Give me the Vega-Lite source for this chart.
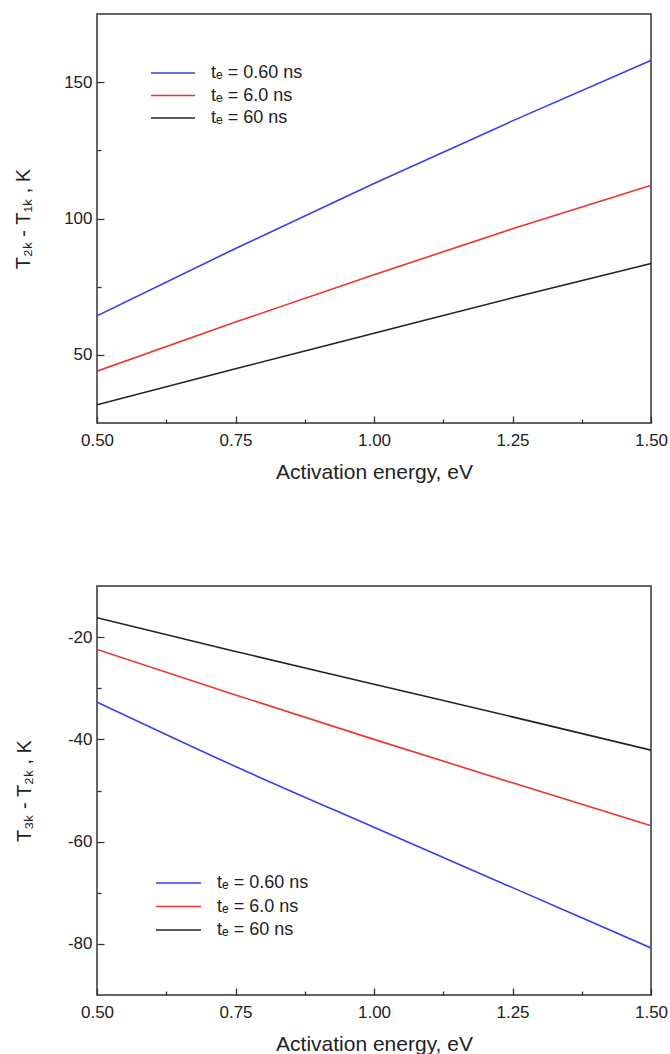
{
  "$schema": "https://vega.github.io/schema/vega-lite/v6.json",
  "background": "white",
  "padding": {"left": 12, "top": 13, "right": 0, "bottom": 5},
  "spacing": 102,
  "config": {
    "font": "Liberation Sans",
    "view": {"stroke": "#333333", "strokeWidth": 1.5},
    "axis": {
      "grid": false,
      "domain": false,
      "tickColor": "#333333",
      "tickWidth": 1.3,
      "labelFont": "Liberation Sans",
      "labelFontSize": 17,
      "labelColor": "#222222",
      "titleFont": "Liberation Sans",
      "titleFontWeight": "normal",
      "titleColor": "#222222"
    },
    "legend": {
      "labelFont": "Liberation Sans",
      "labelFontSize": 18,
      "labelColor": "#222222"
    }
  },
  "datasets": {
    "top": [
      {"E": 0.5, "dT": 64.3, "te": "tₑ = 0.60 ns"},
      {"E": 0.75, "dT": 89.0, "te": "tₑ = 0.60 ns"},
      {"E": 1.0, "dT": 112.8, "te": "tₑ = 0.60 ns"},
      {"E": 1.25, "dT": 135.8, "te": "tₑ = 0.60 ns"},
      {"E": 1.5, "dT": 158.0, "te": "tₑ = 0.60 ns"},
      {"E": 0.5, "dT": 44.0, "te": "tₑ = 6.0 ns"},
      {"E": 0.75, "dT": 62.0, "te": "tₑ = 6.0 ns"},
      {"E": 1.0, "dT": 79.4, "te": "tₑ = 6.0 ns"},
      {"E": 1.25, "dT": 96.2, "te": "tₑ = 6.0 ns"},
      {"E": 1.5, "dT": 112.2, "te": "tₑ = 6.0 ns"},
      {"E": 0.5, "dT": 31.7, "te": "tₑ = 60 ns"},
      {"E": 0.75, "dT": 44.9, "te": "tₑ = 60 ns"},
      {"E": 1.0, "dT": 57.9, "te": "tₑ = 60 ns"},
      {"E": 1.25, "dT": 70.9, "te": "tₑ = 60 ns"},
      {"E": 1.5, "dT": 83.5, "te": "tₑ = 60 ns"}
    ],
    "bottom": [
      {"E": 0.5, "dT": -32.7, "te": "tₑ = 0.60 ns"},
      {"E": 0.75, "dT": -45.3, "te": "tₑ = 0.60 ns"},
      {"E": 1.0, "dT": -57.2, "te": "tₑ = 0.60 ns"},
      {"E": 1.25, "dT": -69.0, "te": "tₑ = 0.60 ns"},
      {"E": 1.5, "dT": -80.8, "te": "tₑ = 0.60 ns"},
      {"E": 0.5, "dT": -22.4, "te": "tₑ = 6.0 ns"},
      {"E": 0.75, "dT": -31.3, "te": "tₑ = 6.0 ns"},
      {"E": 1.0, "dT": -40.0, "te": "tₑ = 6.0 ns"},
      {"E": 1.25, "dT": -48.5, "te": "tₑ = 6.0 ns"},
      {"E": 1.5, "dT": -56.9, "te": "tₑ = 6.0 ns"},
      {"E": 0.5, "dT": -16.2, "te": "tₑ = 60 ns"},
      {"E": 0.75, "dT": -22.8, "te": "tₑ = 60 ns"},
      {"E": 1.0, "dT": -29.2, "te": "tₑ = 60 ns"},
      {"E": 1.25, "dT": -35.6, "te": "tₑ = 60 ns"},
      {"E": 1.5, "dT": -42.1, "te": "tₑ = 60 ns"}
    ]
  },
  "resolve": {"scale": {"color": "independent"}, "legend": {"color": "independent"}},
  "vconcat": [
    {
      "width": 554,
      "height": 409,
      "data": {"name": "top"},
      "resolve": {"axis": {"x": "independent", "y": "independent"}},
      "layer": [
        {
          "mark": {"type": "line", "strokeWidth": 1.6, "clip": true, "interpolate": "monotone"},
          "encoding": {
            "x": {
              "field": "E", "type": "quantitative",
              "scale": {"domain": [0.5, 1.5], "nice": false, "zero": false},
              "axis": {
                "orient": "bottom",
                "title": "Activation energy, eV",
                "titleFontSize": 21,
                "values": [0.5, 0.75, 1.0, 1.25, 1.5],
                "format": ".2f",
                "offset": -7,
                "tickSize": 7,
                "labelPadding": 9,
                "titlePadding": 13,
                "labelFlush": false
              }
            },
            "y": {
              "field": "dT", "type": "quantitative",
              "scale": {"domain": [25, 175], "nice": false, "zero": false},
              "axis": {
                "orient": "left",
                "title": "T₂ₖ - T₁ₖ , K",
                "titleFontSize": 20,
                "values": [50, 100, 150],
                "labelExpr": "'' + datum.value",
                "offset": -7,
                "tickSize": 7,
                "labelPadding": 5,
                "titlePadding": 30
              }
            },
            "color": {
              "field": "te", "type": "nominal",
              "sort": ["tₑ = 0.60 ns", "tₑ = 6.0 ns", "tₑ = 60 ns"],
              "scale": {"domain": ["tₑ = 0.60 ns", "tₑ = 6.0 ns", "tₑ = 60 ns"], "range": ["#3a3aee", "#ee3333", "#222222"]},
              "legend": {
                "title": null,
                "orient": "none",
                "legendX": 53,
                "legendY": 50,
                "symbolType": "stroke",
                "symbolSize": 1936,
                "symbolStrokeWidth": 1.6,
                "labelOffset": 15,
                "clipHeight": 18,
                "rowPadding": 4.5
              }
            }
          }
        },
        {
          "mark": {"type": "line", "opacity": 0},
          "encoding": {
            "x": {
              "field": "E", "type": "quantitative",
              "axis": {
                "orient": "bottom",
                "title": null,
                "labels": false,
                "values": [0.625, 0.875, 1.125, 1.375],
                "offset": -4,
                "tickSize": 4
              }
            },
            "y": {
              "field": "dT", "type": "quantitative",
              "axis": {
                "orient": "left",
                "title": null,
                "labels": false,
                "values": [75, 125],
                "offset": -4,
                "tickSize": 4
              }
            },
            "detail": {"field": "te"}
          }
        }
      ]
    },
    {
      "width": 554,
      "height": 409,
      "data": {"name": "bottom"},
      "resolve": {"axis": {"x": "independent", "y": "independent"}},
      "layer": [
        {
          "mark": {"type": "line", "strokeWidth": 1.6, "clip": true, "interpolate": "monotone"},
          "encoding": {
            "x": {
              "field": "E", "type": "quantitative",
              "scale": {"domain": [0.5, 1.5], "nice": false, "zero": false},
              "axis": {
                "orient": "bottom",
                "title": "Activation energy, eV",
                "titleFontSize": 21,
                "values": [0.5, 0.75, 1.0, 1.25, 1.5],
                "format": ".2f",
                "offset": -7,
                "tickSize": 7,
                "labelPadding": 9,
                "titlePadding": 13,
                "labelFlush": false
              }
            },
            "y": {
              "field": "dT", "type": "quantitative",
              "scale": {"domain": [-90, -10], "nice": false, "zero": false},
              "axis": {
                "orient": "left",
                "title": "T₃ₖ - T₂ₖ , K",
                "titleFontSize": 20,
                "values": [-80, -60, -40, -20],
                "labelExpr": "'' + datum.value",
                "offset": -7,
                "tickSize": 7,
                "labelPadding": 5,
                "titlePadding": 33
              }
            },
            "color": {
              "field": "te", "type": "nominal",
              "sort": ["tₑ = 0.60 ns", "tₑ = 6.0 ns", "tₑ = 60 ns"],
              "scale": {"domain": ["tₑ = 0.60 ns", "tₑ = 6.0 ns", "tₑ = 60 ns"], "range": ["#3a3aee", "#ee3333", "#222222"]},
              "legend": {
                "title": null,
                "orient": "none",
                "legendX": 58,
                "legendY": 288,
                "symbolType": "stroke",
                "symbolSize": 2025,
                "symbolStrokeWidth": 1.6,
                "labelOffset": 15,
                "clipHeight": 18,
                "rowPadding": 5.5
              }
            }
          }
        },
        {
          "mark": {"type": "line", "opacity": 0},
          "encoding": {
            "x": {
              "field": "E", "type": "quantitative",
              "axis": {
                "orient": "bottom",
                "title": null,
                "labels": false,
                "values": [0.625, 0.875, 1.125, 1.375],
                "offset": -4,
                "tickSize": 4
              }
            },
            "y": {
              "field": "dT", "type": "quantitative",
              "axis": {
                "orient": "left",
                "title": null,
                "labels": false,
                "values": [-70, -50, -30],
                "offset": -4,
                "tickSize": 4
              }
            },
            "detail": {"field": "te"}
          }
        }
      ]
    }
  ]
}
